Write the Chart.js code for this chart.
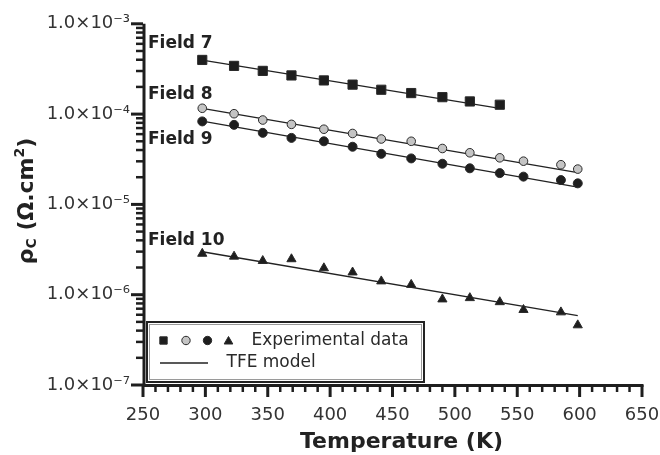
<html>
<head>
<title>Contact resistivity vs temperature</title>
<script src="https://cdn.jsdelivr.net/npm/chart.js@4.4.0/dist/chart.umd.min.js"></script>
<style>
    body { margin: 0; background: #fff; }
    #wrap { width: 660px; height: 455px; }
</style>
</head>
<body>
<div id="wrap"><canvas id="rho-chart"></canvas></div>
<script>
// measured temperatures (K)
const temps = [297.5, 323, 346, 369, 395, 418, 441, 465, 490, 512, 536, 555, 585, 598.5];

// experimental data (ohm.cm2)
const field7 = [3.98e-4, 3.42e-4, 3.01e-4, 2.68e-4, 2.36e-4, 2.12e-4, 1.86e-4, 1.71e-4, 1.54e-4, 1.38e-4, 1.27e-4];
const field8 = [1.16e-4, 1.01e-4, 8.6e-5, 7.7e-5, 6.8e-5, 6.1e-5, 5.3e-5, 5.0e-5, 4.16e-5, 3.73e-5, 3.28e-5, 3.01e-5, 2.75e-5, 2.46e-5];
const field9 = [8.3e-5, 7.6e-5, 6.2e-5, 5.45e-5, 5.0e-5, 4.35e-5, 3.63e-5, 3.23e-5, 2.82e-5, 2.51e-5, 2.22e-5, 2.03e-5, 1.86e-5, 1.71e-5];
const field10 = [2.85e-6, 2.65e-6, 2.37e-6, 2.48e-6, 1.97e-6, 1.77e-6, 1.41e-6, 1.29e-6, 8.9e-7, 9.2e-7, 8.3e-7, 6.8e-7, 6.4e-7, 4.6e-7];

// TFE model lines (end points)
const model7T = [297.5, 536];
const model7 = [3.97e-4, 1.16e-4];
const modelT = [297.5, 598.5];
const model8 = [1.16e-4, 2.25e-5];
const model9 = [8.38e-5, 1.55e-5];
const model10 = [2.99e-6, 5.88e-7];

// axes
const xTicks = [250, 300, 350, 400, 450, 500, 550, 600, 650];
const xTickLabels = ['250', '300', '350', '400', '450', '500', '550', '600', '650'];
const yTicks = [1e-7, 1e-6, 1e-5, 1e-4, 1e-3];
const yTickLabels = ['1.0×10⁻⁷', '1.0×10⁻⁶', '1.0×10⁻⁵', '1.0×10⁻⁴', '1.0×10⁻³'];

// field annotations
const fieldLabels = ['Field 7', 'Field 8', 'Field 9', 'Field 10'];
const fieldLabelAt = [6.08e-4, 1.63e-4, 5.22e-5, 3.95e-6];

const FONT = "'DejaVu Sans', sans-serif";
const INK = '#1e1e1e';

const pts = (xs, ys) => ys.map((v, i) => ({ x: xs[i], y: v }));

function markerSet(data, style, radius, fill) {
    return {
        data, pointStyle: style, pointRadius: radius, pointBackgroundColor: fill,
        pointBorderColor: '#2a2a2a', pointBorderWidth: 1, showLine: false, order: 1
    };
}
function modelSet(data) {
    return {
        data, showLine: true, pointRadius: 0, borderColor: '#222',
        borderWidth: 1.3, fill: false, order: 2
    };
}

// ticks, axis lines, legend box, titles and labels
const decor = {
    id: 'decor',
    afterDraw(chart) {
        const { ctx, chartArea: a, scales: { x, y } } = chart;
        ctx.save();
        ctx.strokeStyle = INK;
        ctx.lineCap = 'butt';

        // y ticks
        for (let d = -7; d <= -3; d++) {
            const py = y.getPixelForValue(Math.pow(10, d));
            ctx.lineWidth = 3;
            ctx.beginPath(); ctx.moveTo(a.left - 12, py); ctx.lineTo(a.left, py); ctx.stroke();
            if (d === -3) continue;
            for (let m = 2; m <= 9; m++) {
                const my = y.getPixelForValue(m * Math.pow(10, d));
                ctx.lineWidth = 2.5;
                ctx.beginPath(); ctx.moveTo(a.left - 7, my); ctx.lineTo(a.left, my); ctx.stroke();
            }
        }
        // x ticks
        for (let t = 250; t <= 650; t += 10) {
            const px = x.getPixelForValue(t);
            const major = t % 50 === 0;
            ctx.lineWidth = major ? 3 : 2.5;
            ctx.beginPath(); ctx.moveTo(px, a.bottom); ctx.lineTo(px, a.bottom + (major ? 12 : 7)); ctx.stroke();
        }
        // axis lines
        ctx.lineWidth = 3;
        ctx.beginPath();
        ctx.moveTo(a.left + 1, a.top);
        ctx.lineTo(a.left + 1, a.bottom + 1.5);
        ctx.moveTo(a.left - 0.5, a.bottom + 0.5);
        ctx.lineTo(a.right + 1.5, a.bottom + 0.5);
        ctx.stroke();

        // field labels
        ctx.fillStyle = '#222';
        ctx.font = 'bold 17px ' + FONT;
        ctx.textAlign = 'left';
        ctx.textBaseline = 'middle';
        fieldLabels.forEach((txt, i) => {
            ctx.fillText(txt, x.getPixelForValue(254), y.getPixelForValue(fieldLabelAt[i]));
        });

        // legend
        const lx = a.left + 4, ly = a.bottom - 63, lw = 277, lh = 60;
        ctx.lineWidth = 2;
        ctx.strokeStyle = '#222';
        ctx.strokeRect(lx, ly, lw, lh);
        ctx.lineWidth = 1;
        ctx.strokeStyle = '#9a9a9a';
        ctx.strokeRect(lx + 2.5, ly + 2.5, lw - 5, lh - 5);

        const row1 = ly + 18.5, row2 = ly + 41;
        const mk = [
            { s: 'rect', r: 5.2, f: INK, x: 163.5 },
            { s: 'circle', r: 4.2, f: '#c4c4c4', x: 186 },
            { s: 'circle', r: 4.2, f: INK, x: 207.5 },
            { s: 'triangle', r: 5, f: INK, x: 228.5 }
        ];
        mk.forEach(m => {
            ctx.fillStyle = m.f;
            ctx.strokeStyle = '#2a2a2a';
            ctx.lineWidth = 1;
            Chart.helpers.drawPoint(ctx, { pointStyle: m.s, radius: m.r, borderWidth: 1, rotation: 0 }, m.x, row1 + (m.s === 'triangle' ? 1 : 0));
        });
        ctx.strokeStyle = '#222';
        ctx.lineWidth = 1.3;
        ctx.beginPath(); ctx.moveTo(160, row2); ctx.lineTo(208, row2); ctx.stroke();

        ctx.fillStyle = '#2a2a2a';
        ctx.font = '17px ' + FONT;
        ctx.fillText('Experimental data', 251.5, row1);
        ctx.fillText('TFE model', 226.5, row2);

        // x title
        ctx.fillStyle = '#222';
        ctx.font = 'bold 22px ' + FONT;
        ctx.textAlign = 'center';
        ctx.fillText('Temperature (K)', 401.5, 442);

        // y title with sub and superscript
        ctx.translate(25, 201);
        ctx.rotate(-Math.PI / 2);
        ctx.textAlign = 'left';
        ctx.textBaseline = 'alphabetic';
        const big = 'bold 22px ' + FONT, small = 'bold 14px ' + FONT;
        const parts = [
            { t: 'ρ', f: big, dy: 0 },
            { t: 'C', f: small, dy: 3 },
            { t: ' (Ω.cm', f: big, dy: 0 },
            { t: '2', f: small, dy: -9 },
            { t: ')', f: big, dy: 0 }
        ];
        let total = 0;
        parts.forEach(p => { ctx.font = p.f; p.w = ctx.measureText(p.t).width; total += p.w; });
        let cx = -total / 2;
        parts.forEach(p => { ctx.font = p.f; ctx.fillText(p.t, cx, 8 + p.dy); cx += p.w; });
        ctx.restore();
    }
};

const ctx = document.getElementById('rho-chart').getContext('2d');
new Chart(ctx, {
    type: 'scatter',
    data: {
        datasets: [
            markerSet(pts(temps, field7), 'rect', 6.5, INK),
            markerSet(pts(temps, field8), 'circle', 4.3, '#c4c4c4'),
            markerSet(pts(temps, field9), 'circle', 4.5, INK),
            markerSet(pts(temps, field10), 'triangle', 5.3, INK),
            modelSet(pts(model7T, model7)),
            modelSet(pts(modelT, model8)),
            modelSet(pts(modelT, model9)),
            modelSet(pts(modelT, model10))
        ]
    },
    options: {
        responsive: true,
        maintainAspectRatio: false,
        animation: false,
        events: [],
        layout: { padding: { top: 20, right: 0, left: 0, bottom: 0 } },
        plugins: { legend: { display: false }, tooltip: { enabled: false } },
        scales: {
            x: {
                type: 'linear', min: 250, max: 650,
                afterBuildTicks: s => { s.ticks = xTicks.map(v => ({ value: v })); },
                afterFit: s => { s.height = 70; s.paddingRight = 18; },
                grid: { display: false, drawTicks: false, tickLength: 0 },
                border: { display: false },
                ticks: {
                    padding: 20, color: '#333', maxRotation: 0,
                    font: { family: FONT, size: 18 },
                    callback: (v, i) => xTickLabels[i]
                }
            },
            y: {
                type: 'logarithmic', min: 1e-7, max: 1e-3,
                afterBuildTicks: s => { s.ticks = yTicks.map(v => ({ value: v })); },
                afterFit: s => { s.width = 143; },
                grid: { display: false, drawTicks: false, tickLength: 0 },
                border: { display: false },
                ticks: {
                    padding: 13, color: '#333',
                    font: { family: FONT, size: 18 },
                    callback: (v, i) => yTickLabels[i]
                }
            }
        }
    },
    plugins: [decor]
});
</script>
</body>
</html>
